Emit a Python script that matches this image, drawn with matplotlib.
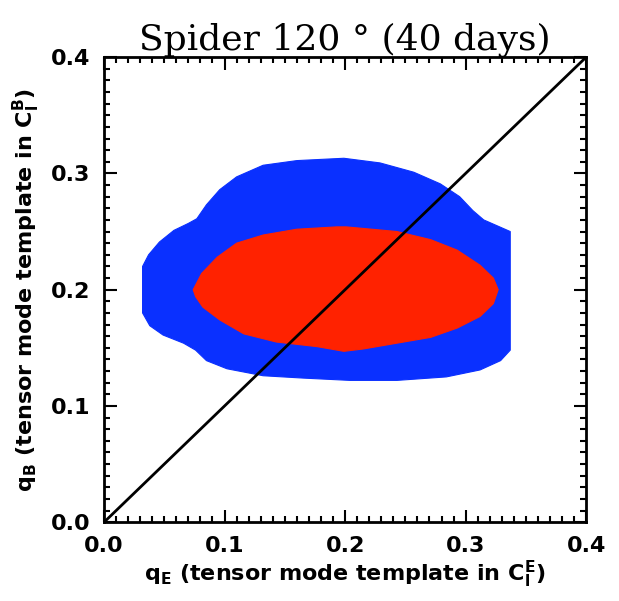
import matplotlib
matplotlib.use("Agg")
import matplotlib.pyplot as plt
from matplotlib.patches import Polygon
from matplotlib.ticker import MultipleLocator, FixedLocator

# 2-sigma (blue) contour vertices (qE, qB)
blue_x = [0.199, 0.160, 0.132, 0.110, 0.096, 0.085, 0.077, 0.070, 0.058, 0.046, 0.037,
          0.032, 0.032, 0.038, 0.049, 0.066, 0.076, 0.085, 0.102, 0.132, 0.165, 0.204,
          0.243, 0.284, 0.312, 0.329, 0.337, 0.337, 0.326, 0.315, 0.306, 0.295, 0.279,
          0.257, 0.229]
blue_y = [0.313, 0.311, 0.307, 0.297, 0.286, 0.273, 0.261, 0.257, 0.251, 0.241, 0.230,
          0.220, 0.180, 0.169, 0.161, 0.154, 0.148, 0.139, 0.132, 0.126, 0.124, 0.122,
          0.122, 0.125, 0.131, 0.139, 0.148, 0.250, 0.255, 0.260, 0.268, 0.280, 0.291,
          0.301, 0.309]
# 1-sigma (red) contour vertices
red_x = [0.074, 0.081, 0.094, 0.110, 0.132, 0.160, 0.193, 0.201, 0.243, 0.271, 0.293,
         0.312, 0.323, 0.327, 0.323, 0.312, 0.293, 0.271, 0.243, 0.215, 0.199, 0.177,
         0.143, 0.116, 0.096, 0.082, 0.076]
red_y = [0.200, 0.214, 0.228, 0.240, 0.247, 0.252, 0.254, 0.254, 0.250, 0.243, 0.234,
         0.221, 0.210, 0.200, 0.188, 0.177, 0.167, 0.159, 0.154, 0.149, 0.147, 0.151,
         0.155, 0.162, 0.174, 0.185, 0.194]
diag = [0.0, 0.4]
ticks = [0.0, 0.1, 0.2, 0.3, 0.4]
tick_labels = ["0.0", "0.1", "0.2", "0.3", "0.4"]

plt.rcParams["mathtext.fontset"] = "dejavusans"
fig = plt.figure(figsize=(6.19, 6.01), dpi=100)
ax = fig.add_axes([0.168, 0.131, 0.779, 0.774])

ax.add_patch(Polygon(list(zip(blue_x, blue_y)), closed=True, facecolor="#0a30ff",
                     edgecolor="#0a30ff", lw=0.8, joinstyle="round"))
ax.add_patch(Polygon(list(zip(red_x, red_y)), closed=True, facecolor="#ff2200",
                     edgecolor="#ff2200", lw=0.8, joinstyle="round"))
ax.plot(diag, diag, color="black", lw=2)

ax.set_xlim(0, 0.4)
ax.set_ylim(0, 0.4)
ax.xaxis.set_major_locator(FixedLocator(ticks))
ax.yaxis.set_major_locator(FixedLocator(ticks))
ax.xaxis.set_minor_locator(MultipleLocator(0.01))
ax.yaxis.set_minor_locator(MultipleLocator(0.01))
ax.tick_params(which="both", direction="in", top=True, right=True, width=1.5)
ax.tick_params(which="major", length=9, labelsize=16, pad=10)
ax.tick_params(which="minor", length=4)
ax.set_xticklabels(tick_labels, fontweight="bold")
ax.set_yticklabels(tick_labels, fontweight="bold")
for s in ax.spines.values():
    s.set_linewidth(2)

ax.set_xlabel(r"$\mathbf{q_E}$ (tensor mode template in $\mathbf{C_l^E}$)",
              fontsize=16, fontweight="bold", labelpad=2)
ax.set_ylabel(r"$\mathbf{q_B}$ (tensor mode template in $\mathbf{C_l^B}$)",
              fontsize=16, fontweight="bold", labelpad=6)
ax.set_title("Spider 120 ° (40 days)", fontsize=26, family="DejaVu Serif", pad=4)

fig.savefig("out.png", dpi=100)
